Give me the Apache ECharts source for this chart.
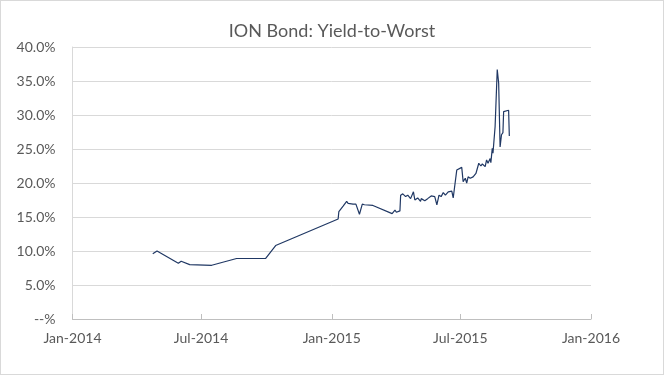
<!DOCTYPE html>
<html>
<head>
<meta charset="utf-8">
<script src="https://cdn.jsdelivr.net/npm/echarts@6/dist/echarts.min.js"></script>
<style>
  html, body { margin: 0; padding: 0; background: #fff; }
  #chart { width: 664px; height: 375px; box-sizing: border-box; border: 1px solid #d9d9d9; }
</style>
</head>
<body>
<div id="chart"></div>
<script>
const dates = [
  '2014-04-24', '2014-04-30', '2014-05-30', '2014-06-03', '2014-06-15', '2014-07-16',
  '2014-08-20', '2014-09-30', '2014-10-14', '2015-01-10', '2015-01-11', '2015-01-17',
  '2015-01-22', '2015-01-24', '2015-01-31', '2015-02-04', '2015-02-09', '2015-02-13',
  '2015-02-16', '2015-02-28', '2015-03-27', '2015-03-31', '2015-04-02', '2015-04-07',
  '2015-04-08', '2015-04-11', '2015-04-15', '2015-04-18', '2015-04-22', '2015-04-26',
  '2015-04-28', '2015-05-02', '2015-05-06', '2015-05-07', '2015-05-12', '2015-05-16',
  '2015-05-21', '2015-05-26', '2015-05-29', '2015-06-01', '2015-06-04', '2015-06-07',
  '2015-06-10', '2015-06-14', '2015-06-19', '2015-06-21', '2015-06-26', '2015-06-28',
  '2015-07-03', '2015-07-05', '2015-07-08', '2015-07-10', '2015-07-12', '2015-07-15',
  '2015-07-19', '2015-07-23', '2015-07-25', '2015-07-27', '2015-07-30', '2015-08-01',
  '2015-08-05', '2015-08-07', '2015-08-09', '2015-08-12', '2015-08-13', '2015-08-15',
  '2015-08-16', '2015-08-19', '2015-08-22', '2015-08-24', '2015-08-26', '2015-08-28',
  '2015-08-30', '2015-08-31', '2015-09-02', '2015-09-07', '2015-09-08'
]
const yields = [
  9.6, 10.0, 8.2, 8.5, 8.0, 7.9,
  8.9, 8.9, 10.8, 14.7, 15.8, 16.6,
  17.3, 17.0, 16.9, 16.9, 15.4, 16.9,
  16.8, 16.7, 15.5, 16.0, 15.7, 15.9,
  18.2, 18.4, 18.0, 18.2, 17.7, 18.7,
  17.5, 17.8, 17.3, 17.7, 17.4, 17.7,
  18.1, 18.0, 16.8, 18.2, 18.0, 18.6,
  18.2, 18.7, 18.8, 17.8, 21.9, 22.1,
  22.3, 20.2, 20.7, 20.0, 20.9, 20.7,
  20.9, 21.4, 21.2, 22.9, 22.5, 22.8,
  22.4, 23.4, 22.9, 23.6, 23.0, 25.1,
  24.4, 28.3, 36.7, 34.7, 25.3, 27.1,
  27.4, 30.5, 30.6, 30.7, 26.9
]
const xTicks = ['2014-01-01', '2014-07-01', '2015-01-01', '2015-07-01', '2016-01-01']
const monthNames = ['Jan', 'Feb', 'Mar', 'Apr', 'May', 'Jun', 'Jul', 'Aug', 'Sep', 'Oct', 'Nov', 'Dec']

const toTime = s => {
  const p = s.split('-').map(Number)
  return Date.UTC(p[0], p[1] - 1, p[2])
}
const tickTimes = xTicks.map(toTime)

const chart = echarts.init(document.getElementById('chart'))
chart.setOption({
  animation: false,
  title: {
    text: 'ION Bond: Yield-to-Worst',
    left: 'center',
    top: 16,
    textStyle: {
      fontFamily: 'Lato',
      fontSize: 18,
      fontWeight: 'normal',
      color: '#595959'
    }
  },
  grid: {
    left: 71.5,
    right: 72,
    top: 46,
    bottom: 55
  },
  xAxis: {
    type: 'value',
    min: tickTimes[0],
    max: tickTimes[tickTimes.length - 1],
    axisLine: { lineStyle: { color: '#bfbfbf' } },
    axisTick: {
      customValues: tickTimes,
      inside: true,
      length: 5,
      lineStyle: { color: '#bfbfbf' }
    },
    axisLabel: {
      customValues: tickTimes,
      margin: 12,
      color: '#595959',
      fontFamily: 'Lato',
      fontSize: 14,
      formatter: v => {
        const d = new Date(v)
        return monthNames[d.getUTCMonth()] + '-' + d.getUTCFullYear()
      }
    },
    splitLine: { show: false }
  },
  yAxis: {
    type: 'value',
    min: 0,
    max: 40,
    interval: 5,
    axisLine: { show: true, lineStyle: { color: '#d9d9d9' } },
    axisTick: { show: false },
    axisLabel: {
      margin: 17,
      color: '#595959',
      fontFamily: 'Lato',
      fontSize: 14,
      formatter: v => (v === 0 ? '--%' : v.toFixed(1) + '%')
    },
    splitLine: { lineStyle: { color: '#d9d9d9' } }
  },
  series: [
    {
      type: 'line',
      data: dates.map((d, i) => [toTime(d), yields[i]]),
      showSymbol: false,
      lineStyle: { color: '#203864', width: 1.2 }
    }
  ]
})
</script>
</body>
</html>
